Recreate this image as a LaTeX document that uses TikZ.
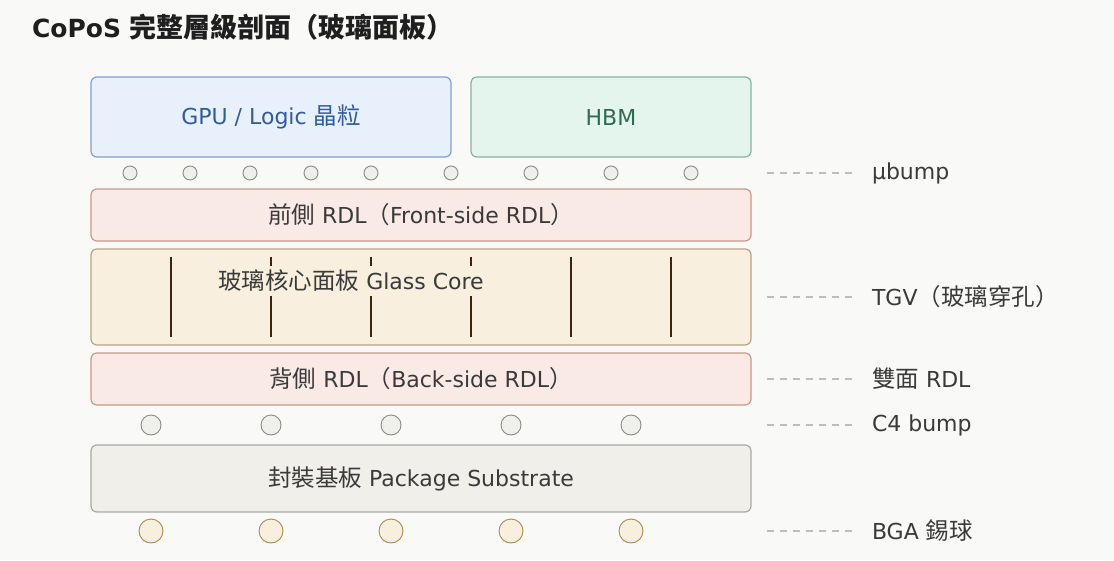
\documentclass[tikz,border=0pt]{standalone}
\usepackage{fontspec}
\setmainfont{DejaVu Sans}
\newfontfamily\cjkfam{Noto Sans CJK TC}
\newcommand\cjk{\cjkfam\fontsize{23.5}{27}\selectfont}
\begin{document}
\begin{tikzpicture}[x=1pt,y=-1pt,
  every node/.style={inner sep=0pt,outer sep=0pt},
  layerbox/.style={draw,line width=1.2pt,rounded corners=6pt,font=\fontsize{22}{26}\selectfont,text=txt},
  ubump/.style={circle,draw=bumpst,fill=bumpfill,line width=0.9pt,minimum size=14pt},
  cfour/.style={circle,draw=bumpst,fill=bumpfill,line width=0.9pt,minimum size=20pt},
  bga/.style={circle,draw=bgast,fill=bgafill,line width=0.9pt,minimum size=24pt},
  tgv/.style={draw=tgvc,line width=2.2pt},
  leader/.style={draw=leadc,line width=1.3pt,dash pattern=on 7pt off 6pt},
  lbl/.style={anchor=west,font=\fontsize{22}{26}\selectfont,text=txt}
]
\definecolor{bg}{HTML}{F9F9F7}
\definecolor{txt}{HTML}{3A3A3A}
\definecolor{gpufill}{HTML}{E8F0FB}
\definecolor{gpust}{HTML}{7FA0D0}
\definecolor{gputxt}{HTML}{2F5C9E}
\definecolor{hbmfill}{HTML}{E4F5EE}
\definecolor{hbmst}{HTML}{86B3A0}
\definecolor{hbmtxt}{HTML}{2E6B52}
\definecolor{rdlfill}{HTML}{F9EAE5}
\definecolor{rdlst}{HTML}{C9998A}
\definecolor{glfill}{HTML}{F8EFDF}
\definecolor{glst}{HTML}{BCA27F}
\definecolor{subfill}{HTML}{F0EFEA}
\definecolor{subst}{HTML}{A9A9A4}
\definecolor{bumpfill}{HTML}{EFEFEB}
\definecolor{bumpst}{HTML}{8A8A86}
\definecolor{bgafill}{HTML}{F8EFDF}
\definecolor{bgast}{HTML}{B0894F}
\definecolor{tgvc}{HTML}{3C2510}
\definecolor{leadc}{HTML}{BDBDBD}

\fill[bg] (0,0) rectangle (1114,560);
\useasboundingbox (0,0) rectangle (1114,560);

% title
\node[anchor=base west,font=\fontsize{25}{30}\selectfont\bfseries,text=black!88] (title) at (32,37) {CoPoS {\cjkfam\fontsize{27}{30}\selectfont\bfseries 完整層級剖面（玻璃面板）}};

% dies
\node[layerbox,draw=gpust,fill=gpufill,text=gputxt,minimum width=360pt,minimum height=80pt] (gpu) at (271,117) {GPU / Logic {\cjk 晶粒}};
\node[layerbox,draw=hbmst,fill=hbmfill,text=hbmtxt,minimum width=280pt,minimum height=80pt] (hbm) at (611,117) {HBM};

% microbumps
\foreach \x [count=\i] in {130,190,250,311,371,451,531,611,691}
  \node[ubump] (ub\i) at (\x,173) {};

% front RDL
\node[layerbox,draw=rdlst,fill=rdlfill,minimum width=660pt,minimum height=52pt] (frdl) at (421,215) {{\cjk 前側} RDL{\cjk （}Front-side RDL{\cjk ）}};

% glass core
\node[layerbox,draw=glst,fill=glfill,minimum width=660pt,minimum height=96pt] (glass) at (421,297) {};
\foreach \x [count=\i] in {171,271,371,471,571,671}
  \draw[tgv] (\x,257) -- (\x,337);
\node[font=\fontsize{22}{26}\selectfont,text=txt,fill=glfill,inner xsep=1pt,inner ysep=4pt] (glasstxt) at (351,281) {{\cjk 玻璃核心面板} Glass Core};

% back RDL
\node[layerbox,draw=rdlst,fill=rdlfill,minimum width=660pt,minimum height=52pt] (brdl) at (421,379) {{\cjk 背側} RDL{\cjk （}Back-side RDL{\cjk ）}};

% C4 bumps
\foreach \x [count=\i] in {151,271,391,511,631}
  \node[cfour] (c\i) at (\x,425) {};

% substrate
\node[layerbox,draw=subst,fill=subfill,minimum width=660pt,minimum height=67pt] (sub) at (421,478.5) {{\cjk 封裝基板} Package Substrate};

% BGA
\foreach \x [count=\i] in {151,271,391,511,631}
  \node[bga] (b\i) at (\x,531) {};

% labels
\foreach \y/\t/\n in {173/μbump/la,297/TGV{\cjk （玻璃穿孔）}/lb,379/{\cjk 雙面} RDL/lc,425/C4 bump/ld,531/BGA {\cjk 錫球}/le}{
  \coordinate (\n s) at (767,\y);
  \node[lbl] (\n) at (872,\y) {\t};
  \draw[leader] (\n s) -- ([xshift=-14pt]\n.west);
}
\end{tikzpicture}
\end{document}
